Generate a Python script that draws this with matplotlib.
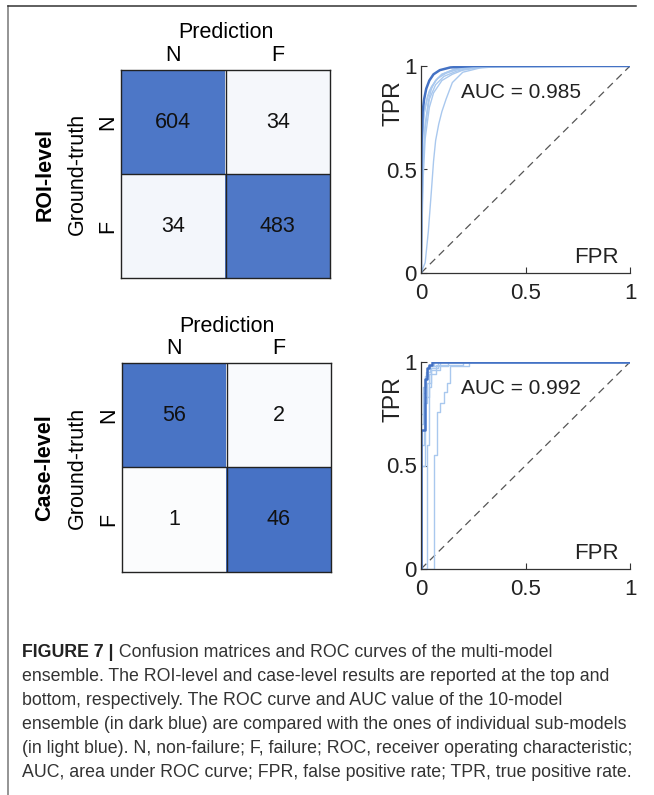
import numpy as np
import matplotlib
matplotlib.use("Agg")
import matplotlib.pyplot as plt
from matplotlib.colors import LinearSegmentedColormap
from matplotlib.lines import Line2D

plt.rcParams['font.family'] = ['Liberation Sans', 'DejaVu Sans']

W, H = 654, 795

# confusion matrices (rows: ground-truth N/F, cols: prediction N/F)
labels = ['N', 'F']
roi_cm = [[604, 34], [34, 483]]
case_cm = [[56, 2], [1, 46]]

# ROC, ROI-level: 10-model ensemble
roi_ens_fpr = [0, 0, 0.003, 0.008, 0.015, 0.025, 0.04, 0.06, 0.09, 0.14, 0.25, 0.5, 1.0]
roi_ens_tpr = [0, 0.30, 0.62, 0.78, 0.84, 0.89, 0.93, 0.96, 0.98, 0.993, 1.0, 1.0, 1.0]
# ROI-level sub-models
roi_sub = [
    ([0, 0.01, 0.02, 0.035, 0.05, 0.07, 0.1, 0.15, 0.22, 0.35, 1],
     [0, 0.55, 0.72, 0.83, 0.89, 0.93, 0.96, 0.98, 0.99, 1, 1]),
    ([0, 0.005, 0.015, 0.03, 0.05, 0.08, 0.12, 0.18, 0.3, 1],
     [0, 0.6, 0.77, 0.85, 0.9, 0.94, 0.965, 0.985, 1, 1]),
    ([0, 0.01, 0.02, 0.04, 0.06, 0.1, 0.15, 0.2, 0.3, 1],
     [0, 0.45, 0.65, 0.8, 0.87, 0.93, 0.96, 0.98, 0.995, 1]),
    ([0, 0.02, 0.035, 0.05, 0.06, 0.07, 0.085, 0.1, 0.12, 0.15, 0.2, 0.28, 0.4, 1],
     [0, 0.05, 0.2, 0.4, 0.54, 0.64, 0.72, 0.78, 0.84, 0.92, 0.97, 0.99, 1, 1]),
    ([0, 0.005, 0.02, 0.04, 0.07, 0.1, 0.16, 0.25, 1],
     [0, 0.7, 0.8, 0.88, 0.93, 0.96, 0.985, 1, 1]),
    ([0, 0.008, 0.02, 0.04, 0.07, 0.11, 0.17, 0.26, 1],
     [0, 0.5, 0.7, 0.84, 0.91, 0.95, 0.975, 0.995, 1]),
]
roi_auc = 0.985

# ROC, case-level (staircase)
case_ens_fpr = [0, 0, 0.02, 0.02, 0.03, 0.03, 0.04, 0.04, 0.052, 0.052, 1]
case_ens_tpr = [0, 0.67, 0.67, 0.92, 0.92, 0.97, 0.97, 0.985, 0.985, 1, 1]
case_sub = [
    ([0, 0.06, 0.06, 0.076, 0.076, 0.09, 0.09, 0.108, 0.108, 0.124, 0.124, 0.14, 0.14, 0.23, 0.23, 1],
     [0, 0, 0.55, 0.55, 0.76, 0.76, 0.8, 0.8, 0.855, 0.855, 0.9, 0.9, 0.98, 0.98, 1, 1]),
    ([0, 0, 0.01, 0.01, 0.02, 0.02, 0.035, 0.035, 0.06, 0.06, 1],
     [0, 0.7, 0.7, 0.85, 0.85, 0.93, 0.93, 0.98, 0.98, 1, 1]),
    ([0, 0, 0.015, 0.015, 0.03, 0.03, 0.05, 0.05, 0.09, 0.09, 1],
     [0, 0.6, 0.6, 0.8, 0.8, 0.9, 0.9, 0.96, 0.96, 1, 1]),
    ([0, 0, 0.008, 0.008, 0.025, 0.025, 0.045, 0.045, 0.13, 0.13, 1],
     [0, 0.75, 0.75, 0.88, 0.88, 0.95, 0.95, 0.98, 0.98, 1, 1]),
    ([0, 0, 0.02, 0.02, 0.04, 0.04, 0.07, 0.07, 0.2, 0.2, 1],
     [0, 0.5, 0.5, 0.83, 0.83, 0.94, 0.94, 0.985, 0.985, 1, 1]),
    ([0, 0.03, 0.03, 0.04, 0.04, 0.05, 0.05, 0.08, 0.08, 1],
     [0, 0, 0.6, 0.6, 0.88, 0.88, 0.97, 0.97, 1, 1]),
]
case_auc = 0.992

caption_bold = "FIGURE 7 |"
caption = [
    " Confusion matrices and ROC curves of the multi-model",
    "ensemble. The ROI-level and case-level results are reported at the top and",
    "bottom, respectively. The ROC curve and AUC value of the 10-model",
    "ensemble (in dark blue) are compared with the ones of individual sub-models",
    "(in light blue). N, non-failure; F, failure; ROC, receiver operating characteristic;",
    "AUC, area under ROC curve; FPR, false positive rate; TPR, true positive rate.",
]

DARK = '#4472C4'
LIGHT = '#A9C8EE'
cmap = LinearSegmentedColormap.from_list('cm', ['#FFFFFF', '#4470C4'])
FS = 15.5


def rect(l, t, r, b):
    return [l / W, 1 - b / H, (r - l) / W, (b - t) / H]


fig = plt.figure(figsize=(W / 100, H / 100), dpi=100)


def conf_matrix(cm, box, level):
    l, t, r, b = box
    ax = fig.add_axes(rect(l, t, r, b))
    cm = np.array(cm, dtype=float)
    frac = cm / cm.sum(axis=1, keepdims=True)
    ax.imshow(frac, cmap=cmap, vmin=0, vmax=1, aspect='auto')
    for i in range(2):
        for j in range(2):
            ax.text(j, i, '%d' % cm[i, j], ha='center', va='center',
                    fontsize=FS, color='#111111')
    ax.axhline(0.5, color='#222222', lw=1)
    ax.axvline(0.5, color='#222222', lw=1)
    for s in ax.spines.values():
        s.set_color('#222222')
        s.set_linewidth(1)
    ax.xaxis.tick_top()
    ax.set_xticks([0, 1])
    ax.set_xticklabels(labels, fontsize=FS)
    ax.set_yticks([0, 1])
    ax.set_yticklabels(labels, fontsize=FS, rotation=90, va='center')
    ax.tick_params(length=0)
    ax.tick_params(axis='x', pad=3)
    ax.tick_params(axis='y', pad=2)
    cx = (l + r) / 2
    cy = (t + b) / 2
    fig.text(cx / W, 1 - (t - 37) / H, 'Prediction', ha='center', va='center', fontsize=FS)
    fig.text(77 / W, 1 - cy / H, 'Ground-truth', ha='center', va='center',
             rotation=90, fontsize=FS)
    fig.text(45 / W, 1 - cy / H, level, ha='center', va='center',
             rotation=90, fontsize=FS, fontweight='bold')


def roc(sub, ens_fpr, ens_tpr, auc, box):
    ax = fig.add_axes(rect(*box))
    ax.plot([0, 1], [0, 1], color='#555555', lw=0.9, dashes=(6, 4))
    for fpr, tpr in sub:
        ax.plot(fpr, tpr, color=LIGHT, lw=1.0)
    ax.plot(ens_fpr, ens_tpr, color=DARK, lw=1.8)
    ax.set_xlim(0, 1)
    ax.set_ylim(0, 1)
    ax.spines['top'].set_visible(False)
    ax.spines['right'].set_visible(False)
    for s in ('left', 'bottom'):
        ax.spines[s].set_color('#333333')
        ax.spines[s].set_linewidth(0.9)
    ax.set_xticks([0, 0.5, 1])
    ax.set_xticklabels(['0', '0.5', '1'])
    ax.set_yticks([0, 0.5, 1])
    ax.set_yticklabels(['0', '0.5', '1'])
    ax.tick_params(direction='in', length=4, labelsize=16, colors='#333333',
                   labelcolor='#222222')
    ax.tick_params(axis='x', pad=7)
    ax.tick_params(axis='y', pad=3)
    ax.text(-0.134, 0.82, 'TPR', rotation=90, ha='center', va='center',
            fontsize=16.5, color='#222222', transform=ax.transAxes)
    ax.text(0.947, 0.077, 'FPR', ha='right', va='center', fontsize=16,
            color='#222222', transform=ax.transAxes)
    ax.text(0.19, 0.87, 'AUC = %.3f' % auc, ha='left', va='center', fontsize=15,
            color='#222222', transform=ax.transAxes)


conf_matrix(roi_cm, (121, 70, 330, 278), 'ROI-level')
conf_matrix(case_cm, (122, 363, 331, 572), 'Case-level')
roc(roi_sub, roi_ens_fpr, roi_ens_tpr, roi_auc, (421, 66, 630, 273))
roc(case_sub, case_ens_fpr, case_ens_tpr, case_auc, (421, 362, 630, 569))

# frame lines of the figure panel
fig.add_artist(Line2D([8 / W, 8 / W], [0, 1 - 6 / H], color='#777777', lw=1.1))
fig.add_artist(Line2D([8 / W, 636 / W], [1 - 6 / H, 1 - 6 / H], color='#333333', lw=1.1))

# caption
cap_size = 12.8
x0 = 22 / W
base = 657
tb = fig.text(x0, 1 - base / H, caption_bold, fontsize=cap_size, fontweight='bold',
              color='#222222', va='baseline')
fig.canvas.draw()
ext = tb.get_window_extent(fig.canvas.get_renderer())
fig.text(ext.x1 / W, 1 - base / H, caption[0], fontsize=cap_size, color='#333333',
         va='baseline')
for i, line in enumerate(caption[1:], start=1):
    fig.text(x0, 1 - (base + 24 * i) / H, line, fontsize=cap_size, color='#333333',
             va='baseline')

fig.savefig('out.png', dpi=100)
